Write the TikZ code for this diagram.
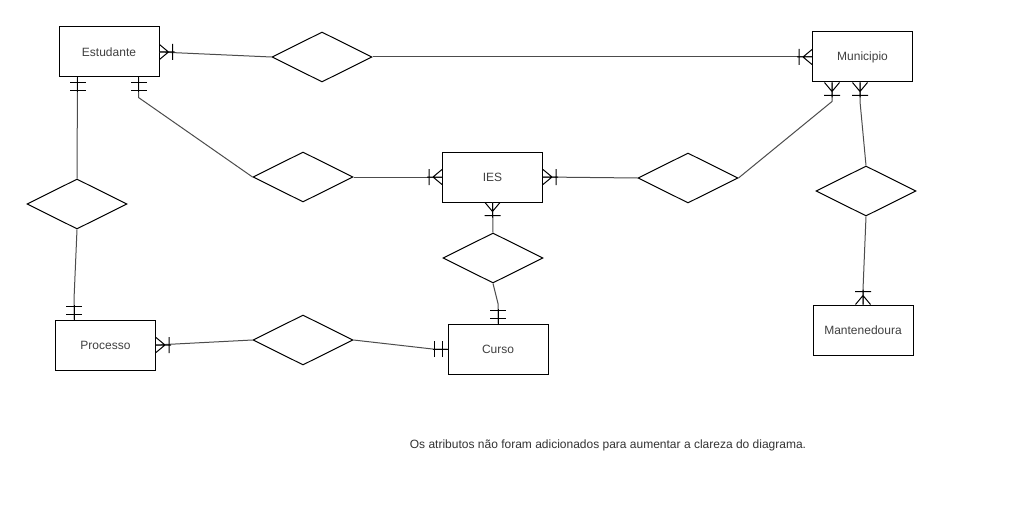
\documentclass[tikz,border=0pt]{standalone}
\usepackage{fontspec}
\setmainfont{Liberation Sans}
\usetikzlibrary{shapes.geometric,calc}
\tikzset{
  entity/.style={draw=black,line width=1pt,rectangle,minimum width=100pt,minimum height=50pt,inner sep=0pt,font=\fontsize{12}{14}\selectfont,text=black!75},
  rel/.style={draw=black,line width=1pt,diamond,minimum width=100pt,minimum height=50pt,inner sep=0pt},
  conn/.style={draw=black!70,line width=1pt},
  crowfoot/.pic={\draw[black,line width=1pt] (0,-7.5)--(9,0)--(0,7.5) (13,-8)--(13,8) (0,0)--(15,0);},
  mandone/.pic={\draw[black,line width=1pt] (5,-8)--(5,8) (13,-8)--(13,8) (0,0)--(15,0);}
}
\begin{document}
\begin{tikzpicture}[x=1pt,y=-1pt]
\useasboundingbox[fill=white] (0,0) rectangle (1014,516);
% entities
\node[entity] (est) at (109,52) {Estudante};
\node[entity] (mun) at (862.5,57) {Municipio};
\node[entity] (ies) at (492.5,177) {IES};
\node[entity] (cur) at (498,349) {Curso};
\node[entity] (pro) at (105.5,345) {Processo};
\node[entity] (man) at (863,330) {Mantenedoura};
% relationships
\node[rel] (d1) at (322,57) {};
\node[rel] (d2) at (303,177) {};
\node[rel] (d3) at (688,178) {};
\node[rel] (d4) at (77,204) {};
\node[rel] (d5) at (493,258) {};
\node[rel] (d6) at (303,340) {};
\node[rel] (d7) at (866,191) {};
% attachment points
\coordinate (estB1) at ($(est.south west)+(19,0)$);
\coordinate (estB2) at ($(est.south west)+(80,0)$);
\coordinate (munB1) at ($(mun.south west)+(20,0)$);
\coordinate (munB2) at ($(mun.south west)+(48,0)$);
\coordinate (proN) at ($(pro.north west)+(19,0)$);
% connectors
\draw[conn] (est.east) -- (d1.west);
\draw[conn] (d1.east) -- (mun.west);
\draw[conn] (estB2) -- ++(0,20) -- (d2.west);
\draw[conn] (estB1) -- (d4.north);
\draw[conn] (d2.east) -- (ies.west);
\draw[conn] (d3.west) -- (ies.east);
\draw[conn] (d3.east) -- ($(munB1)+(0,19)$) -- (munB1);
\draw[conn] (munB2) -- ++(0,19) -- (d7.north);
\draw[conn] (d7.south) -- ($(man.north)+(0,-15)$) -- (man.north);
\draw[conn] (d4.south) -- ($(proN)+(0,-20)$) -- (proN);
\draw[conn] (d6.west) -- (pro.east);
\draw[conn] (d6.east) -- ($(cur.west)+(-15,0)$) -- (cur.west);
\draw[conn] (ies.south) -- (d5.north);
\draw[conn] (d5.south) -- ($(cur.north)+(0,-20)$) -- (cur.north);
% markers
\pic at (est.east) {crowfoot};
\pic[rotate=180] at (mun.west) {crowfoot};
\pic[rotate=-90] at (estB1) {mandone};
\pic[rotate=-90] at (estB2) {mandone};
\pic[rotate=180] at (ies.west) {crowfoot};
\pic at (ies.east) {crowfoot};
\pic[rotate=-90] at (munB1) {crowfoot};
\pic[rotate=-90] at (munB2) {crowfoot};
\pic[rotate=90] at (man.north) {crowfoot};
\pic[rotate=90] at (proN) {mandone};
\pic at (pro.east) {crowfoot};
\pic[rotate=180] at (cur.west) {mandone};
\pic[rotate=-90] at (ies.south) {crowfoot};
\pic[rotate=90] at (cur.north) {mandone};
% note
\node[font=\fontsize{12}{14}\selectfont,text=black!80] (note) at (608,445) {Os atributos não foram adicionados para aumentar a clareza do diagrama.};
\end{tikzpicture}
\end{document}
